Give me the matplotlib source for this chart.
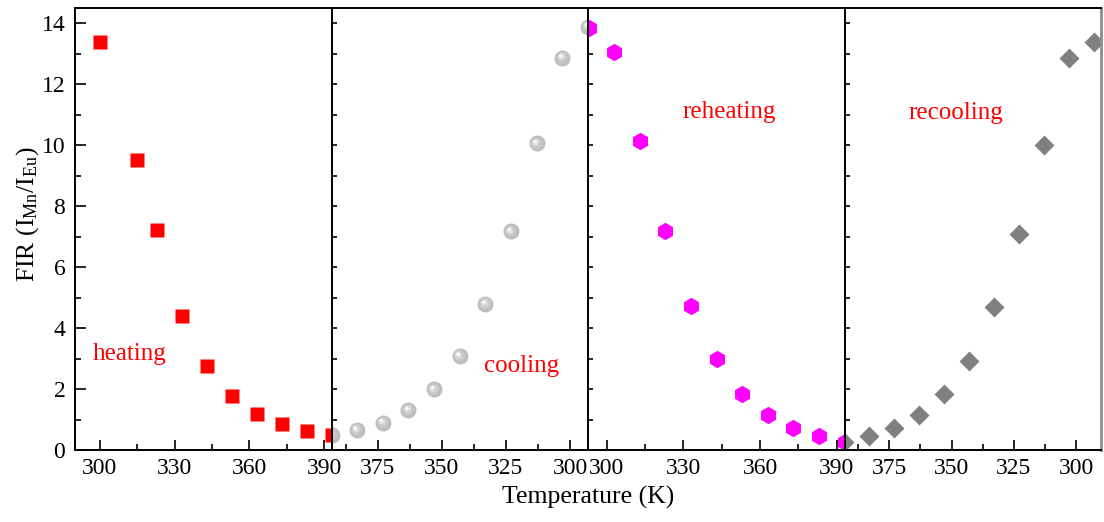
import numpy as np
import matplotlib
matplotlib.use("Agg")
import matplotlib.pyplot as plt
from matplotlib.ticker import MultipleLocator, FixedLocator
from matplotlib.transforms import ScaledTranslation

plt.rcParams['font.family'] = ['Liberation Serif', 'DejaVu Serif']
plt.rcParams['mathtext.fontset'] = 'custom'
plt.rcParams['mathtext.rm'] = 'Liberation Serif'
plt.rcParams['mathtext.it'] = 'Liberation Serif:italic'

# data
heat_T = [300, 315, 323, 333, 343, 353, 363, 373, 383, 393]
heat_fir = [13.40, 9.52, 7.22, 4.40, 2.77, 1.78, 1.17, 0.84, 0.62, 0.50]

cool_T = [393, 383, 373, 363, 353, 343, 333, 323, 313, 303, 293]
cool_fir = [0.49, 0.66, 0.90, 1.31, 1.99, 3.09, 4.79, 7.17, 10.06, 12.87, 13.89]

reheat_T = [293, 303, 313, 323, 333, 343, 353, 363, 373, 383, 393]
reheat_fir = [13.86, 13.07, 10.13, 7.17, 4.71, 2.98, 1.84, 1.14, 0.71, 0.46, 0.27]

recool_T = [393, 383, 373, 363, 353, 343, 333, 323, 313, 303, 293]
recool_fir = [0.27, 0.46, 0.71, 1.15, 1.83, 2.93, 4.69, 7.09, 10.00, 12.87, 13.38]

up_ticks = [300, 330, 360, 390]
down_ticks = [375, 350, 325, 300]

fig = plt.figure(figsize=(11.04, 5.22), dpi=100)

left = 75 / 1104
bottom = 72 / 522
height = 442 / 522
width = 256.5 / 1104

axes = [fig.add_axes([left + i * width, bottom, width, height]) for i in range(4)]
xlims = [(290, 393), (393, 293), (292.7, 393), (393, 290)]

for i, ax in enumerate(axes):
    ax.set_xlim(*xlims[i])
    ax.set_ylim(0, 14.5)
    for sp in ax.spines.values():
        sp.set_color('black')
        sp.set_linewidth(1.4)
    if i % 2 == 0:
        ax.xaxis.set_major_locator(FixedLocator(up_ticks))
        ax.xaxis.set_minor_locator(MultipleLocator(15))
    else:
        ax.xaxis.set_major_locator(FixedLocator(down_ticks))
        ax.xaxis.set_minor_locator(MultipleLocator(12.5))
    ax.yaxis.set_major_locator(MultipleLocator(2))
    ax.yaxis.set_minor_locator(MultipleLocator(1))
    ax.tick_params(axis='x', which='major', direction='in', length=7, width=1.2,
                   labelsize=17, pad=6, top=False)
    ax.tick_params(axis='x', which='minor', direction='in', length=4, width=1.2, top=False)
    if i == 0:
        ax.tick_params(axis='y', which='major', direction='in', length=8, width=1.2,
                       labelsize=17, pad=7, right=False)
        ax.tick_params(axis='y', which='minor', direction='in', length=4, width=1.2, right=False)
    else:
        ax.tick_params(axis='y', which='both', direction='in', length=3.5, width=1.2,
                       labelleft=False, right=False)

axes[3].spines['right'].set_color('#8c8c8c')
axes[3].spines['right'].set_linewidth(2)

# heating
axes[0].plot(heat_T, heat_fir, 's', color='red', ms=10, mec='none')

# cooling: grey shaded spheres
def spheres(ax, x, y):
    ax.plot(x, y, 'o', color='#bdbdbd', ms=11.5, mec='none')
    layers = [(8.5, '#c6c6c6'), (6, '#d2d2d2'), (4, '#e2e2e2'), (2.4, '#f4f4f4'), (1.2, 'white')]
    for s, c in layers:
        off = (11.5 - s) * 0.17
        tr = ax.transData + ScaledTranslation(-off / 72, off / 72, fig.dpi_scale_trans)
        ax.plot(x, y, 'o', color=c, ms=s, mec='none', transform=tr)

spheres(axes[1], cool_T, cool_fir)

# reheating
axes[2].plot(reheat_T, reheat_fir, 'h', color='#ff00ff', ms=12.5, mec='none')

# recooling
axes[3].plot(recool_T, recool_fir, 'D', color='#808080', ms=10.5, mec='none')

axes[0].text(312, 3.15, 'heating', color='red', fontsize=18, ha='center', va='center')
axes[1].text(318.8, 2.76, 'cooling', color='red', fontsize=18, ha='center', va='center')
axes[2].text(347.9, 11.08, 'reheating', color='red', fontsize=18, ha='center', va='center')
axes[3].text(348.2, 11.06, 'recooling', color='red', fontsize=18, ha='center', va='center')

fig.text(28 / 1104, 1 - 214 / 522, r'FIR (I$_{\mathrm{Mn}}$/I$_{\mathrm{Eu}}$)',
         rotation=90, ha='center', va='center', fontsize=18.5)
fig.text(588 / 1104, 1 - 497 / 522, 'Temperature (K)', ha='center', va='center', fontsize=18.5)

fig.savefig('out.png', dpi=100)
